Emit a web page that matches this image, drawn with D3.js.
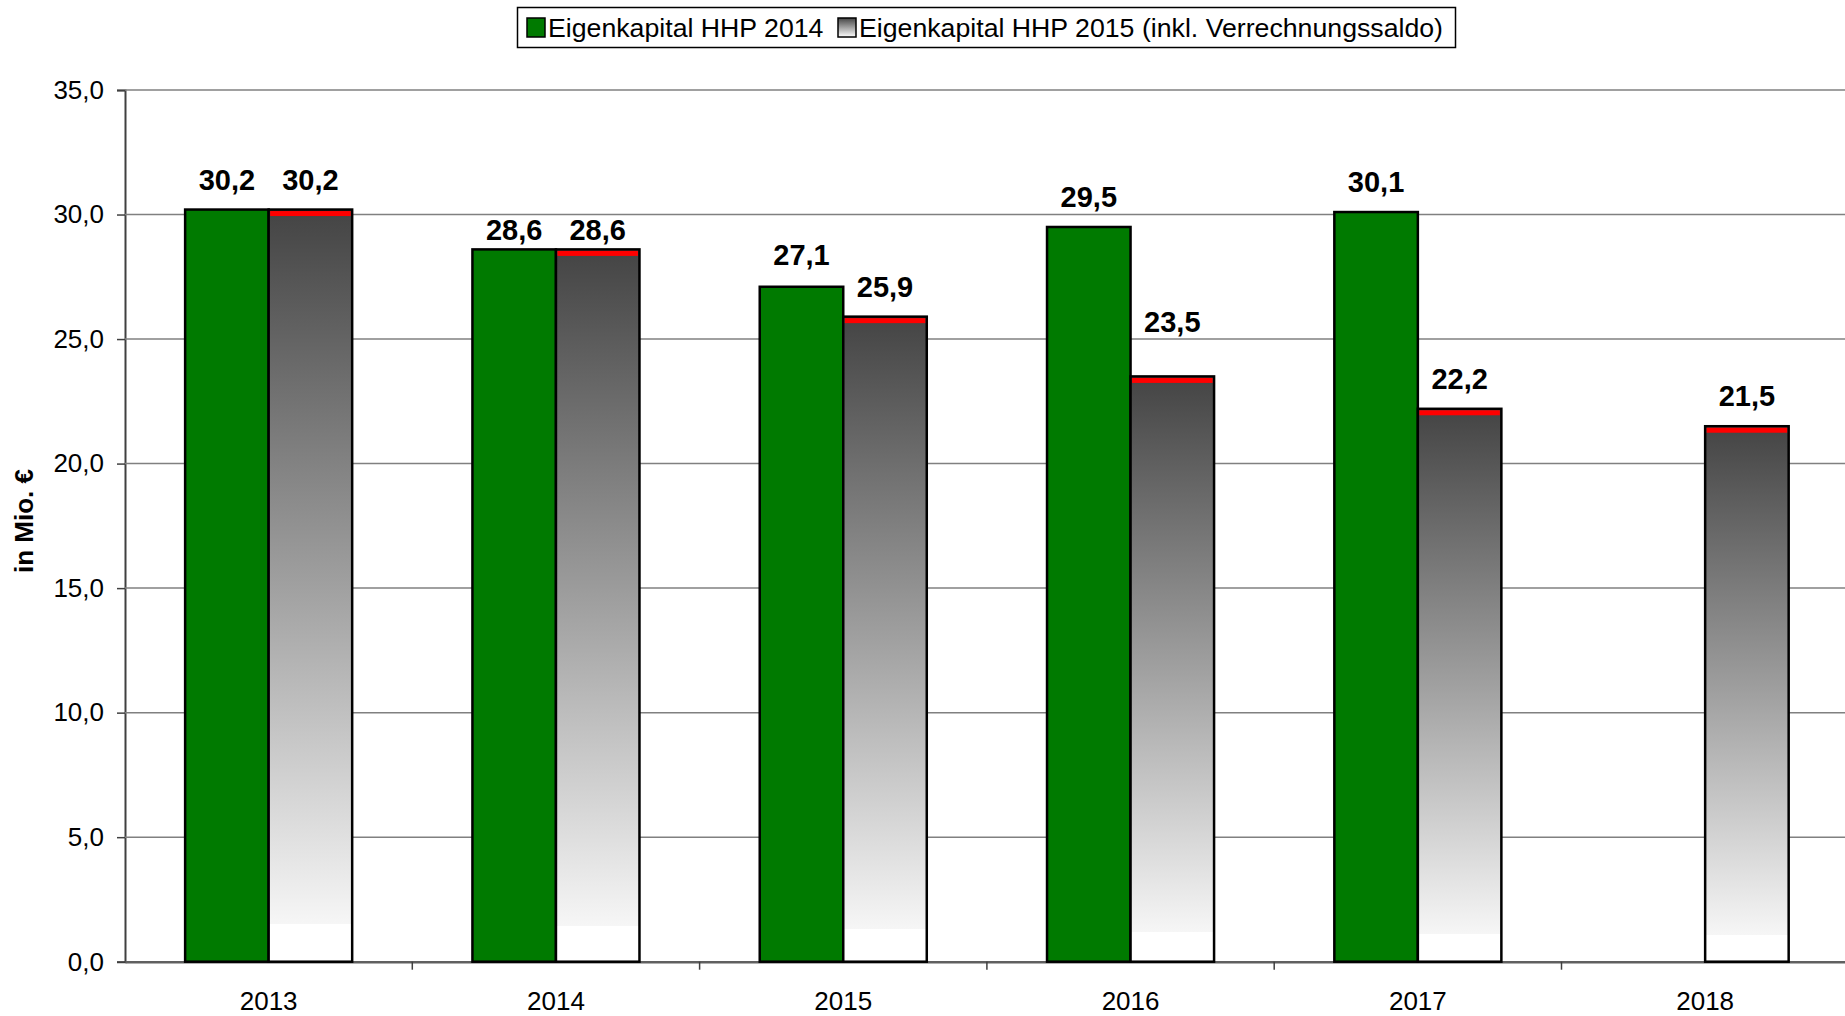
<!DOCTYPE html>
<html>
<head>
<meta charset="utf-8">
<script src="https://cdn.jsdelivr.net/npm/d3@7"></script>
<style>
  body { margin: 0; background: #fff; }
  svg { display: block; font-family: "Liberation Sans", Arial, sans-serif; }
</style>
</head>
<body>
<div id="chart"></div>
<script>
// data
var years = ['2013', '2014', '2015', '2016', '2017', '2018']
var hhp2014 = [30.2, 28.6, 27.1, 29.5, 30.1, null]
var hhp2015 = [30.2, 28.6, 25.9, 23.5, 22.2, 21.5]
var seriesNames = ['Eigenkapital HHP 2014', 'Eigenkapital HHP 2015 (inkl. Verrechnungssaldo)']
var yTicks = [0, 5, 10, 15, 20, 25, 30, 35]

// hand placed label nudges in the original (px, + = down)
const SHIFT_GREEN = [0, 11, -2, 0, 0, 0]
const SHIFT_GRAY = [0, 11, 0, -24, 0, 0]

const W = 1845, H = 1016
const MARGIN = { LEFT: 125, TOP: 90, BOTTOM: 54 }
const PLOT_W = 6 * 287.3
const PLOT_H = H - MARGIN.TOP - MARGIN.BOTTOM - 0.3

const de = d3.formatLocale({ decimal: ',', thousands: '.', grouping: [3], currency: ['', ' €'] })
const fmt = de.format('.1f')

const svg = d3.select('#chart').append('svg')
	.attr('width', W)
	.attr('height', H)

// gradient for the second series
const defs = svg.append('defs')
const grad = defs.append('linearGradient')
	.attr('id', 'grayGrad')
	.attr('x1', 0).attr('y1', 0).attr('x2', 0).attr('y2', 1)
grad.append('stop').attr('offset', '0%').attr('stop-color', '#444444')
grad.append('stop').attr('offset', '50%').attr('stop-color', '#a0a0a0')
grad.append('stop').attr('offset', '95%').attr('stop-color', '#f6f6f6')
grad.append('stop').attr('offset', '95%').attr('stop-color', '#ffffff')
grad.append('stop').attr('offset', '100%').attr('stop-color', '#ffffff')

const legGrad = defs.append('linearGradient')
	.attr('id', 'legGrad')
	.attr('x1', 0).attr('y1', 0).attr('x2', 0).attr('y2', 1)
legGrad.append('stop').attr('offset', '0%').attr('stop-color', '#444444')
legGrad.append('stop').attr('offset', '100%').attr('stop-color', '#ffffff')

const g = svg.append('g')
	.attr('transform', `translate(${MARGIN.LEFT}, ${MARGIN.TOP})`)

// Scales
const x = d3.scaleBand()
	.domain(years)
	.range([0, PLOT_W])
	.padding(0)
const xs = d3.scaleBand()
	.domain(['a', 'b'])
	.range([0, x.bandwidth()])
	.paddingInner(0)
	.paddingOuter(0.72)
const y = d3.scaleLinear()
	.domain([0, 35])
	.range([PLOT_H, 0])

// grid + Y axis
const yAxisCall = d3.axisLeft(y)
	.tickValues(yTicks)
	.tickFormat(fmt)
	.tickSize(8)
	.tickPadding(13)
const yAxis = g.append('g').attr('class', 'y axis').call(yAxisCall)
yAxis.select('.domain').attr('stroke', '#404040').attr('stroke-width', 2)
yAxis.selectAll('.tick line').attr('stroke', '#404040').attr('stroke-width', 1.5)
yAxis.selectAll('.tick text')
	.attr('font-size', '26px')
	.attr('fill', '#000')
	.attr('font-family', '"Liberation Sans", Arial, sans-serif')

g.append('g').attr('class', 'grid')
	.selectAll('line')
	.data(yTicks.filter(d => d > 0))
	.join('line')
	.attr('x1', 0).attr('x2', PLOT_W)
	.attr('y1', d => y(d)).attr('y2', d => y(d))
	.attr('stroke', '#808080')
	.attr('stroke-width', 1.5)

// X axis
const xAxisCall = d3.axisBottom(x).tickSize(0).tickPadding(30)
const xAxis = g.append('g')
	.attr('class', 'x axis')
	.attr('transform', `translate(0, ${PLOT_H})`)
	.call(xAxisCall)
xAxis.select('.domain').attr('stroke', '#606060').attr('stroke-width', 2.5)
xAxis.selectAll('.tick text')
	.attr('font-size', '26px')
	.attr('fill', '#000')
	.attr('font-family', '"Liberation Sans", Arial, sans-serif')
xAxis.selectAll('.sep')
	.data(years.slice(1))
	.join('line')
	.attr('class', 'sep')
	.attr('x1', d => x(d)).attr('x2', d => x(d))
	.attr('y1', 0).attr('y2', 8)
	.attr('stroke', '#404040')
	.attr('stroke-width', 1.5)

const green = years.map((d, i) => ({ year: d, v: hhp2014[i], s: SHIFT_GREEN[i] })).filter(d => d.v != null)
const gray = years.map((d, i) => ({ year: d, v: hhp2015[i], s: SHIFT_GRAY[i] })).filter(d => d.v != null)

// bars: HHP 2014
g.selectAll('rect.green')
	.data(green)
	.join('rect')
	.attr('class', 'green')
	.attr('x', d => x(d.year) + xs('a'))
	.attr('y', d => y(d.v))
	.attr('width', xs.bandwidth())
	.attr('height', d => y(0) - y(d.v))
	.attr('fill', '#007a00')
	.attr('stroke', '#000')
	.attr('stroke-width', 2.5)

// bars: HHP 2015 (2018 sits in the right half of its category)
g.selectAll('rect.gray')
	.data(gray)
	.join('rect')
	.attr('class', 'gray')
	.attr('x', d => x(d.year) + xs('b'))
	.attr('y', d => y(d.v))
	.attr('width', xs.bandwidth())
	.attr('height', d => y(0) - y(d.v))
	.attr('fill', 'url(#grayGrad)')
	.attr('stroke', '#000')
	.attr('stroke-width', 2.5)

g.selectAll('rect.red')
	.data(gray)
	.join('rect')
	.attr('class', 'red')
	.attr('x', d => x(d.year) + xs('b') + 1.5)
	.attr('y', d => y(d.v) + 1.5)
	.attr('width', xs.bandwidth() - 3)
	.attr('height', 5)
	.attr('fill', '#ff0000')

// value labels
const labelStyle = sel => sel
	.attr('text-anchor', 'middle')
	.attr('font-size', '29px')
	.attr('font-weight', 'bold')
	.attr('fill', '#000')
g.selectAll('text.lg')
	.data(green)
	.join('text')
	.attr('class', 'lg')
	.attr('x', d => x(d.year) + xs('a') + xs.bandwidth() / 2)
	.attr('y', d => y(d.v) - 20 + d.s)
	.text(d => fmt(d.v))
	.call(labelStyle)
g.selectAll('text.lb')
	.data(gray)
	.join('text')
	.attr('class', 'lb')
	.attr('x', d => x(d.year) + xs('b') + xs.bandwidth() / 2)
	.attr('y', d => y(d.v) - 20 + d.s)
	.text(d => fmt(d.v))
	.call(labelStyle)

// y label
svg.append('text')
	.attr('transform', 'translate(33, 521) rotate(-90)')
	.attr('text-anchor', 'middle')
	.attr('font-size', '26px')
	.attr('font-weight', 'bold')
	.text('in Mio. €')

// Legend
const leg = svg.append('g').attr('class', 'legend')
leg.append('rect')
	.attr('x', 517.5).attr('y', 7.5)
	.attr('width', 938).attr('height', 40)
	.attr('fill', '#fff')
	.attr('stroke', '#000')
	.attr('stroke-width', 1.5)
const legItems = [
	{ name: seriesNames[0], fill: '#007a00', x: 527 },
	{ name: seriesNames[1], fill: 'url(#legGrad)', x: 838 }
]
legItems.forEach(it => {
	leg.append('rect')
		.attr('x', it.x).attr('y', 18)
		.attr('width', 18).attr('height', 19)
		.attr('fill', it.fill)
		.attr('stroke', '#000')
		.attr('stroke-width', 1.5)
	leg.append('text')
		.attr('x', it.x + 21)
		.attr('y', 37)
		.attr('font-size', '26.7px')
		.text(it.name)
})
</script>
</body>
</html>
